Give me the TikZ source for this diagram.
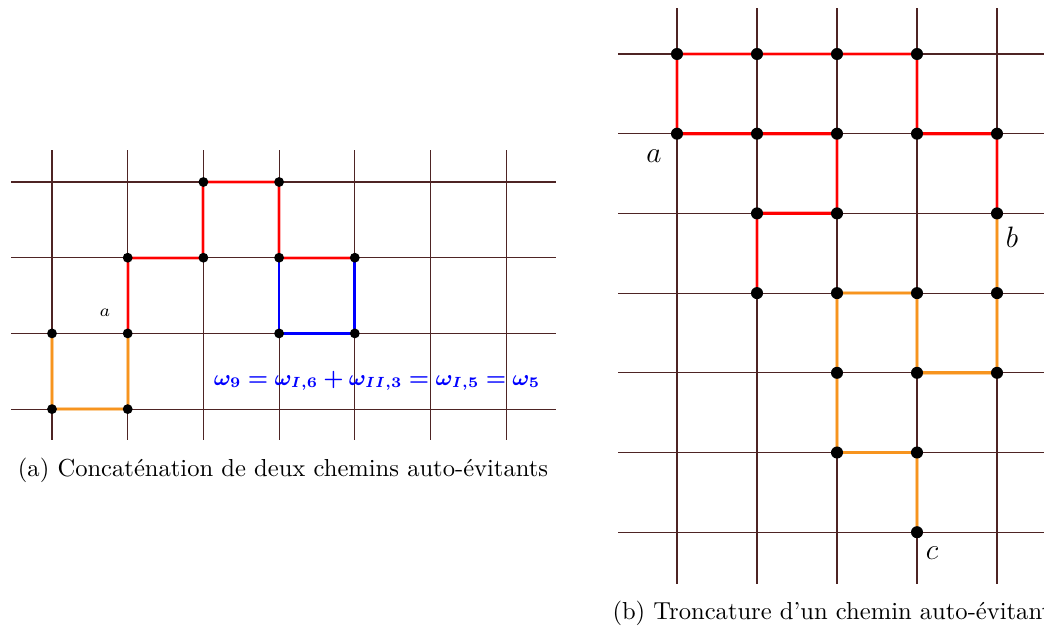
\documentclass[tikz,border=0pt]{standalone}
\usepackage{fontspec}
\usepackage{bm}
\definecolor{gridbrown}{RGB}{78,36,36}
\definecolor{walkorange}{RGB}{247,148,30}

\begin{document}
\begin{tikzpicture}[
  x=0.0143cm, y=-0.0143cm,
  gridline/.style={draw=gridbrown, line width=0.45pt},
  dot/.style={circle, fill=black, inner sep=0pt, minimum size=4pt},
  bigdot/.style={dot, minimum size=4.9pt},
  walk/.style={line width=0.8pt, line join=round},
  redwalk/.style={walk, draw=red, preaction={draw=red!30, line width=1.6pt}},
  orangewalk/.style={walk, draw=walkorange, preaction={draw=walkorange!45, line width=1.6pt}},
  bluewalk/.style={walk, draw=blue, line width=1.1pt},
  bigwalk/.style={line width=1.1pt, preaction={line width=2.2pt}},
  caption/.style={font=\normalsize, inner sep=0pt}
]
\useasboundingbox (0,0) rectangle (1044,628);
\def\xA{52}
\def\yA{182}
\def\cA{75.7}
\def\xB{677}
\def\yB{54}
\def\cB{80}
% grid of (a)
\foreach \i in {0,...,6}
  \draw[gridline] ({\xA+\cA*\i},150) -- ({\xA+\cA*\i},440);
\foreach \j in {0,...,3}
  \draw[gridline] (11,{\yA+\cA*\j}) -- (556,{\yA+\cA*\j});
% grid of (b)
\foreach \i in {0,...,4}
  \draw[gridline] ({\xB+\cB*\i},8) -- ({\xB+\cB*\i},584);
\foreach \j in {0,...,6}
  \draw[gridline] (618,{\yB+79.7*\j}) -- (1060,{\yB+79.7*\j});
% points of the walks
\foreach \i/\j in {0/2,0/3,1/3,1/2,1/1,2/1,2/0,3/0,3/1,4/1,3/2,4/2}
  \coordinate (pa-\i-\j) at ({\xA+\cA*\i},{\yA+\cA*\j});
\foreach \i/\j in {0/0,1/0,2/0,3/0,0/1,1/1,2/1,3/1,4/1,1/2,2/2,4/2,1/3,2/3,3/3,4/3,2/4,3/4,4/4,2/5,3/5,3/6}
  \coordinate (pb-\i-\j) at ({\xB+\cB*\i},{\yB+79.7*\j});
% (a) concatenation
\draw[orangewalk] (pa-1-2) -- (pa-1-3) -- (pa-0-3) -- (pa-0-2);
\draw[redwalk] (pa-1-2) -- (pa-1-1) -- (pa-2-1) -- (pa-2-0) -- (pa-3-0) -- (pa-3-1) -- (pa-4-1);
\draw[bluewalk] (pa-3-1) -- (pa-3-2) -- (pa-4-2) -- (pa-4-1);
\foreach \i/\j in {0/2,0/3,1/3,1/2,1/1,2/1,2/0,3/0,3/1,4/1,3/2,4/2}
  \node[dot] (da-\i-\j) at (pa-\i-\j) {};
\node[font=\scriptsize] (lbla) at (105,313) {$a$};
\node[text=blue, font=\small] (formula) at (377,381) {$\bm{\omega_9=\omega_{I,6}+\omega_{II,3}=\omega_{I,5}=\omega_5}$};
\node[caption] (capa) at (283,470) {(a) Concaténation de deux chemins auto-évitants};
% (b) truncation
\draw[redwalk, bigwalk] (pb-1-3) -- (pb-1-2) -- (pb-2-2) -- (pb-2-1) -- (pb-1-1) -- (pb-0-1) -- (pb-0-0) -- (pb-1-0) -- (pb-2-0) -- (pb-3-0) -- (pb-3-1) -- (pb-4-1) -- (pb-4-2);
\draw[orangewalk, bigwalk] (pb-4-2) -- (pb-4-3) -- (pb-4-4) -- (pb-3-4) -- (pb-3-3) -- (pb-2-3) -- (pb-2-4) -- (pb-2-5) -- (pb-3-5) -- (pb-3-6);
\foreach \i/\j in {0/0,1/0,2/0,3/0,0/1,1/1,2/1,3/1,4/1,1/2,2/2,4/2,1/3,2/3,3/3,4/3,2/4,3/4,4/4,2/5,3/5,3/6}
  \node[bigdot] (db-\i-\j) at (pb-\i-\j) {};
\node[font=\large] (lblb-a) at (654,156) {$a$};
\node[font=\large] (lblb-b) at (1012,237) {$b$};
\node[font=\large] (lblb-c) at (932,553) {$c$};
\node[caption, anchor=west] (capb) at (612,613) {(b) Troncature d’un chemin auto-évitant};
\end{tikzpicture}
\end{document}
